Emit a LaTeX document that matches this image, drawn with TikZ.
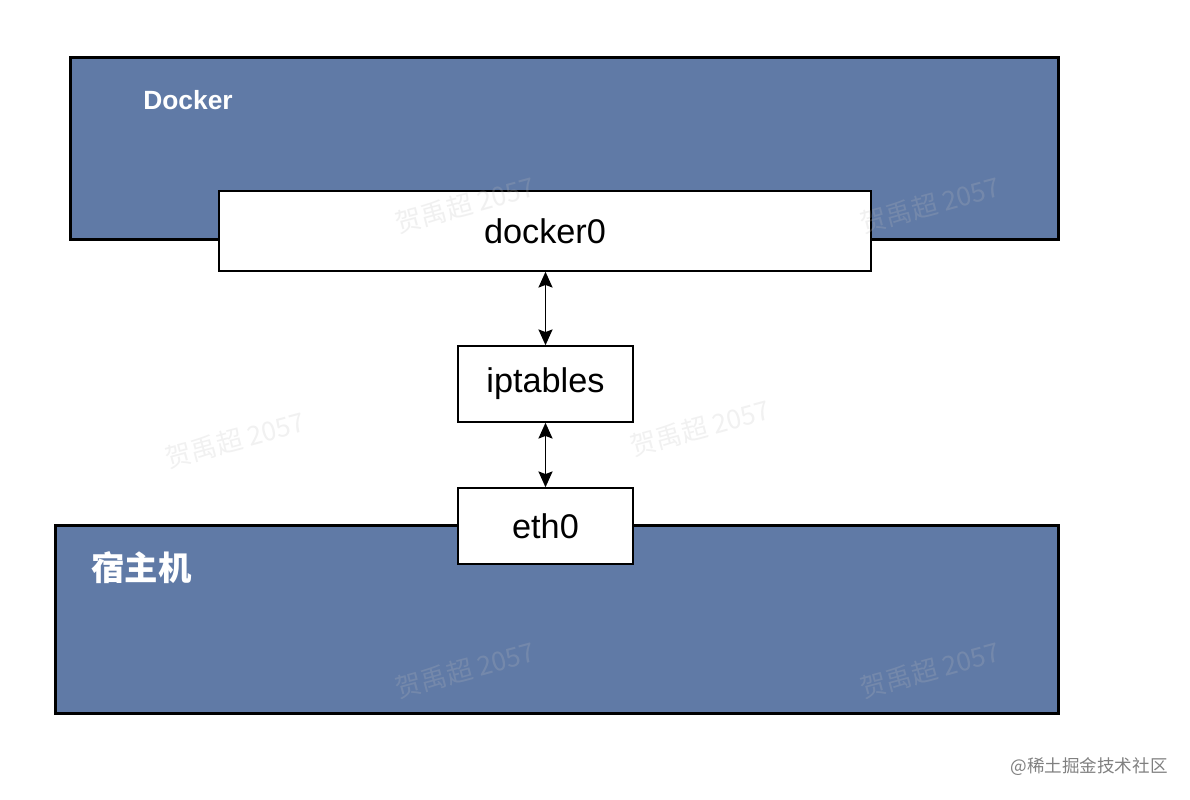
\documentclass[tikz,border=0pt]{standalone}
\usepackage{fontspec}
\setmainfont{Liberation Sans}
\newfontfamily\cjk{Noto Sans CJK SC}
\usepackage{tikz}
\usetikzlibrary{arrows.meta}

\definecolor{hostblue}{RGB}{96,122,166}
\definecolor{markgray}{RGB}{190,190,190}

\tikzset{
  bigbox/.style={draw=black, line width=1.7pt, fill=hostblue, minimum width=#1, inner sep=0pt},
  smallbox/.style={draw=black, line width=0.85pt, fill=white, font=\fontsize{19.5}{22}\selectfont, inner sep=0pt},
  link/.style={line width=1.1pt, {Stealth[length=9pt,width=8pt,inset=1.5pt]}-{Stealth[length=9pt,width=8pt,inset=1.5pt]}},
  wmark/.style={text=markgray, opacity=0.22, rotate=15, font=\cjk\fontsize{15}{17}\selectfont}
}

\begin{document}
\begin{tikzpicture}[x=0.02cm, y=-0.02cm]
            \useasboundingbox (0,0) rectangle (1190,800);
            % docker side
            \node (docker) [bigbox=19.78cm, minimum height=3.66cm] at (564.5,148.5) {};
            \node (dockerlabel) [anchor=west, text=white, font=\bfseries\fontsize{15}{17}\selectfont, inner sep=0pt] at (143,100) {Docker};
            \node (docker0) [smallbox, minimum width=13.04cm, minimum height=1.6cm] at (545,231) {docker0};
            % host side
            \node (host) [bigbox=20.08cm, minimum height=3.78cm] at (557,619.5) {};
            \node (hostlabel) [anchor=west, text=white, font=\cjk\bfseries\fontsize{19}{21}\selectfont, inner sep=0pt] at (91,568) {宿主机};
            \node (iptables) [smallbox, minimum width=3.5cm, minimum height=1.52cm] at (545.5,384) {iptables};
            \node (eth0) [smallbox, minimum width=3.5cm, minimum height=1.52cm] at (545.5,526) {eth0};
            % links
            \draw[link] (docker0.south -| iptables.north) -- (iptables.north);
            \draw[link] (iptables.south) -- (eth0.north);
            % watermarks
            \foreach \px/\py [count=\i] in {235/440, 700/428, 465/205, 930/205, 465/670, 930/670}
              \node (wm\i) [wmark] at (\px,\py) {贺禹超 2057};
            \node (juejin) [anchor=east, text=gray, font=\cjk\fontsize{10}{12}\selectfont, inner sep=0pt] at (1168,767) {@稀土掘金技术社区};
        \end{tikzpicture}
\end{document}
